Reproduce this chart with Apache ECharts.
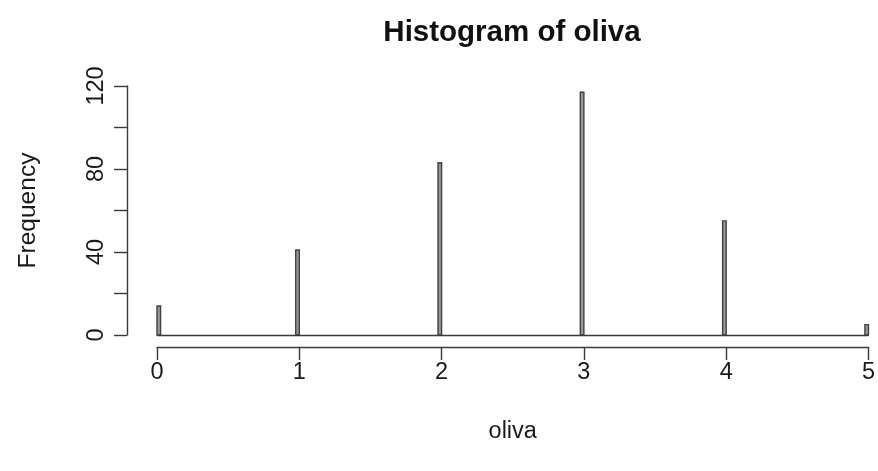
<!DOCTYPE html>
<html>
<head>
<meta charset="utf-8">
<script src="https://cdn.jsdelivr.net/npm/echarts@6/dist/echarts.min.js"></script>
<style>
  html, body { margin: 0; padding: 0; background: #ffffff; }
  #chart { width: 878px; height: 471px; }
</style>
</head>
<body>
<div id="chart"></div>
<script>
// Histogram of oliva: counts per narrow bin (right-closed bins of width 0.025)
const binValues = [0, 1, 2, 3, 4, 5];
const binCounts = [14, 41, 83, 117, 55, 5];
const binWidth = 0.025;
const xTicks = [0, 1, 2, 3, 4, 5];
const yTicks = [0, 20, 40, 60, 80, 100, 120];
const yLabelled = [0, 40, 80, 120];

const FONT = 'Liberation Sans, Arial, sans-serif';
const INK = '#1a1a1a';
const LINE = '#3a3a3a';

const chart = echarts.init(document.getElementById('chart'), null, { renderer: 'canvas' });

const bins = binValues.map((v, i) => {
  // first bin includes its lower edge; the rest end at the break value
  const lo = i === 0 ? v : v - binWidth;
  return [lo, lo + binWidth, binCounts[i]];
});

chart.setOption({
  animation: false,
  backgroundColor: '#ffffff',
  title: {
    text: 'Histogram of oliva',
    left: 507,
    top: 13,
    textAlign: 'center',
    textStyle: { fontFamily: FONT, fontSize: 29.5, fontWeight: 'bold', color: '#111' }
  },
  grid: { left: 157, right: 7.3, top: 86, bottom: 136, containLabel: false },
  xAxis: {
    type: 'value',
    min: xTicks[0],
    max: xTicks[xTicks.length - 1],
    interval: 1,
    offset: 12,
    name: 'oliva',
    nameLocation: 'middle',
    nameGap: 73,
    nameTextStyle: { fontFamily: FONT, fontSize: 23.5, color: INK },
    axisLine: { show: true, onZero: false, lineStyle: { color: LINE, width: 1.4 } },
    axisTick: { show: true, length: 13, lineStyle: { color: LINE, width: 1.4 } },
    axisLabel: { fontFamily: FONT, fontSize: 23.5, color: INK, margin: 14 },
    splitLine: { show: false }
  },
  yAxis: {
    type: 'value',
    min: yTicks[0],
    max: yTicks[yTicks.length - 1],
    interval: 20,
    offset: 30,
    name: 'Frequency',
    nameLocation: 'middle',
    nameRotate: 90,
    nameGap: 86,
    nameTextStyle: { fontFamily: FONT, fontSize: 24.5, color: INK },
    axisLine: { show: true, onZero: false, lineStyle: { color: LINE, width: 1.4 } },
    axisTick: { show: true, length: 13, lineStyle: { color: LINE, width: 1.4 } },
    axisLabel: {
      fontFamily: FONT, fontSize: 23.5, color: INK, margin: 18, rotate: 90,
      formatter: v => (yLabelled.indexOf(v) >= 0 ? String(v) : '')
    },
    splitLine: { show: false }
  },
  series: [{
    type: 'custom',
    data: bins,
    encode: { x: [0, 1], y: 2 },
    renderItem: (params, api) => {
      const p0 = api.coord([api.value(0), 0]);
      const p1 = api.coord([api.value(1), api.value(2)]);
      return {
        type: 'rect',
        shape: { x: p0[0], y: p1[1], width: p1[0] - p0[0], height: p0[1] - p1[1] },
        style: { fill: '#9a9a9a', stroke: '#404040', lineWidth: 1.4 }
      };
    },
    markLine: {
      silent: true,
      symbol: 'none',
      label: { show: false },
      lineStyle: { color: LINE, width: 1.4, type: 'solid' },
      data: [{ yAxis: 0 }]
    }
  }]
});
</script>
</body>
</html>
